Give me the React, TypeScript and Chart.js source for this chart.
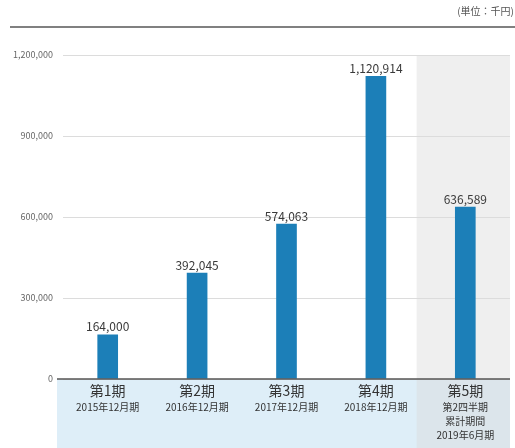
import React, { useEffect, useRef } from "react";
import { Chart, registerables } from "chart.js";

Chart.register(...registerables);

const periods = ["第1期", "第2期", "第3期", "第4期", "第5期"];
const subLabels: string[][] = [
  ["2015年12月期"],
  ["2016年12月期"],
  ["2017年12月期"],
  ["2018年12月期"],
  ["第2四半期", "累計期間", "2019年6月期"],
];
const values = [164000, 392045, 574063, 1120914, 636589];
const yMax = 1200000;
const yStep = 300000;
const unitLabel = "(単位：千円)";
const highlightIndex = 4;

const FONT = "'Noto Sans CJK JP', 'Noto Sans', sans-serif";

const fmt = (v: number) => v.toLocaleString("en-US");

const decorPlugin = {
  id: "decor",
  beforeDraw(chart: any) {
    const { ctx, chartArea, scales } = chart;
    const x = scales.x;
    const H = chart.height;
    const W = chart.width;
    ctx.save();
    // blue band under axis
    ctx.fillStyle = "#deeef8";
    ctx.fillRect(chartArea.left - 6, chartArea.bottom, chartArea.right - chartArea.left + 6, H - chartArea.bottom);
    // highlighted column
    const c4 = x.getPixelForValue(highlightIndex - 1);
    const c5 = x.getPixelForValue(highlightIndex);
    const hl = (c4 + c5) / 2 - 4;
    ctx.fillStyle = "#efefef";
    ctx.fillRect(hl, chartArea.top, chartArea.right - hl, chartArea.bottom - chartArea.top);
    ctx.fillStyle = "#dce5eb";
    ctx.fillRect(hl, chartArea.bottom, chartArea.right - hl, H - chartArea.bottom);
    // top rule
    ctx.strokeStyle = "#808080";
    ctx.lineWidth = 2;
    ctx.beginPath();
    ctx.moveTo(10, 27);
    ctx.lineTo(W, 27);
    ctx.stroke();
    // unit label
    ctx.fillStyle = "#555";
    ctx.font = `10px ${FONT}`;
    ctx.textAlign = "right";
    ctx.textBaseline = "middle";
    ctx.fillText(unitLabel, W - 1, 11);
    ctx.restore();
  },
  afterDatasetsDraw(chart: any) {
    const { ctx, chartArea, scales } = chart;
    const x = scales.x;
    const meta = chart.getDatasetMeta(0);
    ctx.save();
    // axis line
    ctx.strokeStyle = "#555";
    ctx.lineWidth = 1.5;
    ctx.beginPath();
    ctx.moveTo(chartArea.left - 6, chartArea.bottom);
    ctx.lineTo(chartArea.right, chartArea.bottom);
    ctx.stroke();
    // value labels
    ctx.fillStyle = "#3a3a3a";
    ctx.font = `12px ${FONT}`;
    ctx.textAlign = "center";
    ctx.textBaseline = "bottom";
    meta.data.forEach((bar: any, i: number) => {
      ctx.fillText(fmt(values[i]), bar.x, bar.y - 2);
    });
    // category labels
    periods.forEach((p, i) => {
      const cx = x.getPixelForValue(i);
      ctx.fillStyle = "#333";
      ctx.textBaseline = "middle";
      ctx.font = `14px ${FONT}`;
      ctx.fillText(p, cx, chartArea.bottom + 12);
      ctx.font = `10px ${FONT}`;
      subLabels[i].forEach((s, j) => {
        ctx.fillText(s, cx, chartArea.bottom + 28 + j * 14);
      });
    });
    ctx.restore();
  },
};

export default function App() {
  const ref = useRef<HTMLCanvasElement | null>(null);
  useEffect(() => {
    document.body.style.margin = "0";
    if (!ref.current) return;
    const chart = new Chart(ref.current, {
      type: "bar",
      data: {
        labels: periods,
        datasets: [
          {
            data: values,
            backgroundColor: "#1c7fb8",
            barThickness: 20,
          },
        ],
      },
      options: {
        responsive: false,
        animation: false,
        layout: { padding: { left: 0, right: 5, top: 55, bottom: 69 } },
        plugins: { legend: { display: false }, tooltip: { enabled: false } },
        scales: {
          x: {
            grid: { display: false, drawTicks: false },
            border: { display: false },
            ticks: { display: false },
          },
          y: {
            min: 0,
            max: yMax,
            afterFit: (s: any) => {
              s.width = 63;
            },
            ticks: {
              stepSize: yStep,
              padding: 10,
              color: "#666",
              font: { size: 9, family: FONT },
              callback: (v: any) => fmt(Number(v)),
            },
            grid: { color: "#dcdcdc", drawTicks: false },
            border: { display: false },
          },
        },
      },
      plugins: [decorPlugin],
    });
    return () => chart.destroy();
  }, []);
  return (
    <div style={{ width: 515, height: 448 }}>
      <canvas ref={ref} width={515} height={448} style={{ display: "block" }} />
    </div>
  );
}
